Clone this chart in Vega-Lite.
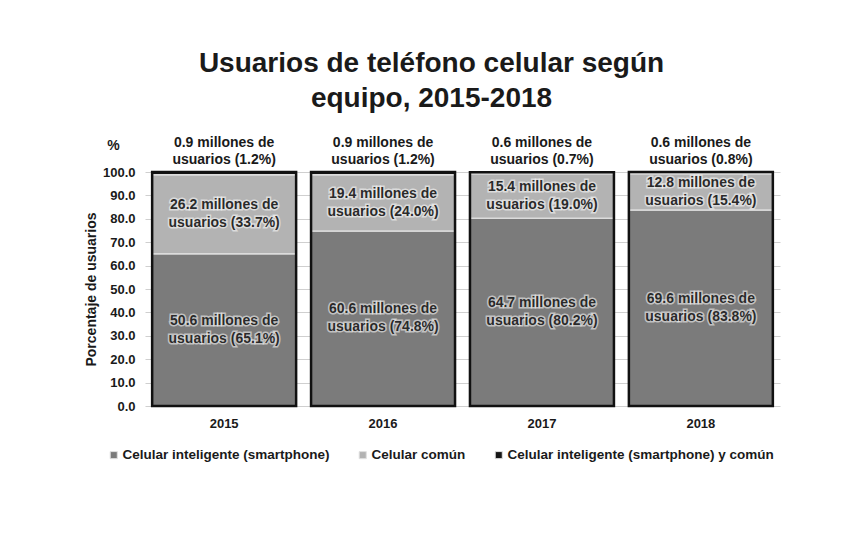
{
  "$schema": "https://vega.github.io/schema/vega-lite/v6.json",
  "width": 635,
  "height": 234,
  "autosize": {"type": "none"},
  "padding": {"left": 145, "top": 172, "right": 84, "bottom": 148},
  "background": "white",
  "title": {
    "text": ["Usuarios de teléfono celular según", "equipo, 2015-2018"],
    "fontSize": 28,
    "font": "Liberation Sans",
    "fontWeight": "bold",
    "color": "#1a1a1a",
    "lineHeight": 35,
    "anchor": "middle",
    "dx": -31,
    "dy": 64,
    "baseline": "bottom",
    "offset": 59
  },
  "config": {"font": "Liberation Sans", "view": {"stroke": null}},
  "data": {
    "values": [
      {"anio": "2015", "tipo": "Celular inteligente (smartphone)", "orden": 1, "porcentaje": 65.1, "etiqueta": ["50.6 millones de", "usuarios (65.1%)"]},
      {"anio": "2015", "tipo": "Celular común", "orden": 2, "porcentaje": 33.7, "etiqueta": ["26.2 millones de", "usuarios (33.7%)"]},
      {"anio": "2015", "tipo": "Celular inteligente (smartphone) y común", "orden": 3, "porcentaje": 1.2, "etiqueta": ["0.9 millones de", "usuarios (1.2%)"]},
      {"anio": "2016", "tipo": "Celular inteligente (smartphone)", "orden": 1, "porcentaje": 74.8, "etiqueta": ["60.6 millones de", "usuarios (74.8%)"]},
      {"anio": "2016", "tipo": "Celular común", "orden": 2, "porcentaje": 24.0, "etiqueta": ["19.4 millones de", "usuarios (24.0%)"]},
      {"anio": "2016", "tipo": "Celular inteligente (smartphone) y común", "orden": 3, "porcentaje": 1.2, "etiqueta": ["0.9 millones de", "usuarios (1.2%)"]},
      {"anio": "2017", "tipo": "Celular inteligente (smartphone)", "orden": 1, "porcentaje": 80.2, "etiqueta": ["64.7 millones de", "usuarios (80.2%)"]},
      {"anio": "2017", "tipo": "Celular común", "orden": 2, "porcentaje": 19.0, "etiqueta": ["15.4 millones de", "usuarios (19.0%)"]},
      {"anio": "2017", "tipo": "Celular inteligente (smartphone) y común", "orden": 3, "porcentaje": 0.7, "etiqueta": ["0.6 millones de", "usuarios (0.7%)"]},
      {"anio": "2018", "tipo": "Celular inteligente (smartphone)", "orden": 1, "porcentaje": 83.8, "etiqueta": ["69.6 millones de", "usuarios (83.8%)"]},
      {"anio": "2018", "tipo": "Celular común", "orden": 2, "porcentaje": 15.4, "etiqueta": ["12.8 millones de", "usuarios (15.4%)"]},
      {"anio": "2018", "tipo": "Celular inteligente (smartphone) y común", "orden": 3, "porcentaje": 0.8, "etiqueta": ["0.6 millones de", "usuarios (0.8%)"]}
    ]
  },
  "layer": [
    {
      "mark": {"type": "bar", "stroke": "#dcdcdc", "strokeWidth": 1.5},
      "encoding": {
        "x": {
          "field": "anio", "type": "nominal",
          "scale": {"paddingInner": 0.094, "paddingOuter": 0.045},
          "axis": {"title": null, "labelAngle": 0, "labelFontSize": 13, "labelFontWeight": "bold", "labelColor": "#1a1a1a", "domain": false, "ticks": false, "labelPadding": 11}
        },
        "y": {
          "field": "porcentaje", "type": "quantitative", "stack": "zero",
          "scale": {"domain": [0, 100]},
          "axis": {
            "values": [0, 10, 20, 30, 40, 50, 60, 70, 80, 90, 100],
            "format": ".1f", "grid": true, "gridColor": "#cfcfcf", "domain": false, "ticks": false,
            "labelPadding": 10, "labelFontSize": 13, "labelFontWeight": "bold", "labelColor": "#1a1a1a",
            "title": "Porcentaje de usuarios", "titleFontSize": 14, "titleFontWeight": "bold", "titleColor": "#1a1a1a", "titlePadding": 4
          }
        },
        "color": {
          "field": "tipo", "type": "nominal",
          "scale": {
            "domain": ["Celular inteligente (smartphone)", "Celular común", "Celular inteligente (smartphone) y común"],
            "range": ["#7b7b7b", "#b3b3b3", "#151515"]
          },
          "legend": {
            "orient": "none", "legendX": -38, "legendY": 276, "direction": "horizontal", "title": null,
            "symbolType": "square", "symbolSize": 50, "symbolStrokeColor": "#e0e0e0", "symbolStrokeWidth": 1,
            "labelFontSize": 13.5, "labelFontWeight": "bold", "labelColor": "#1a1a1a", "labelLimit": 400,
            "columnPadding": 26, "labelOffset": 2
          }
        },
        "order": {"field": "orden", "type": "quantitative"}
      }
    },
    {
      "mark": {"type": "bar", "fillOpacity": 0, "stroke": "#111111", "strokeWidth": 2.5},
      "encoding": {
        "x": {"field": "anio", "type": "nominal"},
        "y": {
          "aggregate": "sum", "field": "porcentaje", "type": "quantitative",
          "axis": {"orient": "left", "labels": false, "grid": false, "domain": false, "ticks": false,
            "title": "%", "titleAngle": 0, "titleX": -32, "titleY": -27, "titleAlign": "center", "titleBaseline": "middle",
            "titleFontSize": 14, "titleFontWeight": "bold", "titleColor": "#1a1a1a"}
        }
      }
    },
    {
      "transform": [
        {"filter": "datum.orden < 3"},
        {"stack": "porcentaje", "groupby": ["anio"], "sort": [{"field": "orden"}], "as": ["y0", "y1"]},
        {"calculate": "(datum.y0 + datum.y1) / 2", "as": "ymid"}
      ],
      "encoding": {
        "x": {"field": "anio", "type": "nominal"},
        "y": {"field": "ymid", "type": "quantitative", "axis": null},
        "text": {"field": "etiqueta", "type": "nominal"}
      },
      "layer": [
        {"mark": {"type": "text", "fontSize": 14, "fontWeight": "bold", "lineHeight": 18, "baseline": "middle", "dy": -9, "stroke": "#ffffff", "strokeWidth": 3, "strokeOpacity": 0.55, "fill": "#ffffff", "fillOpacity": 0.55}},
        {"mark": {"type": "text", "fontSize": 14, "fontWeight": "bold", "lineHeight": 18, "baseline": "middle", "dy": -9, "fill": "#2a2a2a"}}
      ]
    },
    {
      "transform": [{"filter": "datum.orden == 3"}],
      "mark": {"type": "text", "fontSize": 14, "fontWeight": "bold", "lineHeight": 16.5, "baseline": "bottom", "dy": -22, "fill": "#1a1a1a"},
      "encoding": {
        "x": {"field": "anio", "type": "nominal"},
        "y": {"datum": 100, "axis": null},
        "text": {"field": "etiqueta", "type": "nominal"}
      }
    }
  ],
  "resolve": {"axis": {"y": "independent"}}
}
